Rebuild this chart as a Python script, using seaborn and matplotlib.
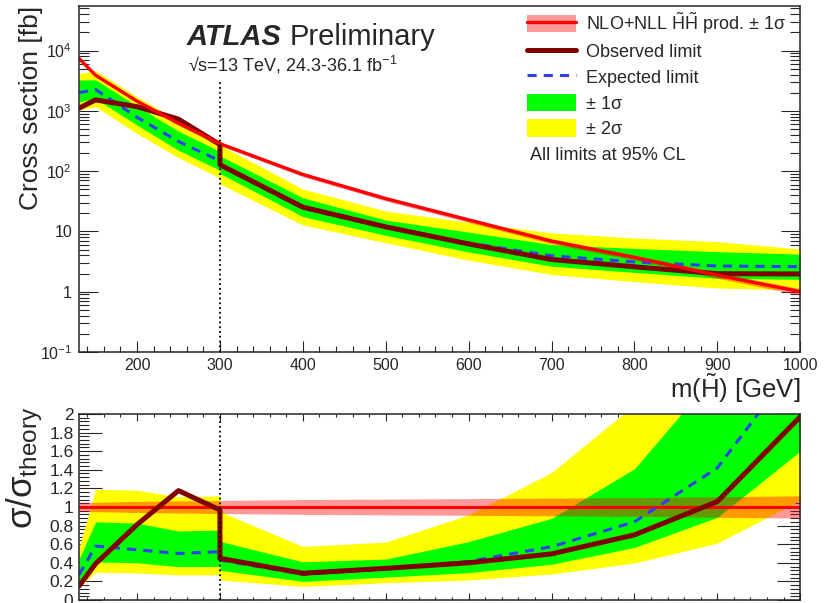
import numpy as np
import matplotlib
matplotlib.use("Agg")
import matplotlib.pyplot as plt
import seaborn as sns
from matplotlib.patches import Patch
from matplotlib.lines import Line2D
from matplotlib.ticker import MultipleLocator, LogLocator, FuncFormatter, NullFormatter

# NLO+NLL higgsino pair production [fb] and its relative uncertainty
mass = np.array([130, 150, 200, 250, 300, 400, 500, 600, 700, 800, 900, 1000])
xsec_theory = np.array([7400, 3900, 1450, 620, 285, 88, 35, 15.5, 6.9, 3.7, 1.88, 1.0])
theory_unc = np.array([0.05, 0.05, 0.06, 0.065, 0.07, 0.08, 0.085, 0.09, 0.095, 0.10, 0.11, 0.12])

# low-mass analysis limits [fb]
mass_low = np.array([130, 150, 200, 250, 300])
obs_low = np.array([1110, 1520, 1175, 729, 276])
exp_low = np.array([2000, 2260, 783, 310, 148])
exp_low_1dn = np.array([1406, 1599, 580, 222, 103])
exp_low_1up = np.array([3256, 3276, 1198, 460, 214])
exp_low_2dn = np.array([1036, 1170, 421, 167, 77])
exp_low_2up = np.array([4144, 4641, 1711, 688, 319])

# high-mass analysis limits [fb]
mass_high = np.array([300, 400, 500, 600, 700, 800, 900, 1000])
obs_high = np.array([127.7, 25.3, 11.9, 6.2, 3.42, 2.59, 1.99, 1.97])
exp_high = np.array([122.6, 24.2, 11.6, 6.43, 3.95, 3.11, 2.67, 2.6])
exp_high_1dn = np.array([91.2, 17.6, 8.6, 4.56, 2.65, 2.09, 1.67, 1.6])
exp_high_1up = np.array([179.6, 36.1, 15.4, 9.72, 6.06, 5.22, 4.61, 4.2])
exp_high_2dn = np.array([61.3, 12.8, 6.5, 3.33, 1.93, 1.47, 1.15, 1.07])
exp_high_2up = np.array([270.8, 50.6, 21.8, 14.2, 9.45, 7.77, 6.77, 5.1])

RED = "#ff0000"
DARKRED = "#800000"
BLUE = "#3040f0"
GREEN = "#00ff00"
YELLOW = "#ffff00"

sns.set_style("ticks")
plt.rcParams["font.family"] = ["Liberation Sans", "DejaVu Sans"]
plt.rcParams["mathtext.fontset"] = "custom"
plt.rcParams["mathtext.rm"] = "Liberation Sans"
plt.rcParams["mathtext.it"] = "Liberation Sans:italic"
plt.rcParams["mathtext.bf"] = "Liberation Sans:bold"
plt.rcParams["mathtext.sf"] = "Liberation Sans"

fig = plt.figure(figsize=(8.29, 6.03), dpi=100)
ax = fig.add_axes([0.0953, 0.4163, 0.870, 0.5738])
axr = fig.add_axes([0.0953, 0.005, 0.870, 0.3085])

# ---------------- top panel ----------------
for m, d2, u2, d1, u1 in [(mass_low, exp_low_2dn, exp_low_2up, exp_low_1dn, exp_low_1up),
                          (mass_high, exp_high_2dn, exp_high_2up, exp_high_1dn, exp_high_1up)]:
    ax.fill_between(m, d2, u2, color=YELLOW, lw=0)
    ax.fill_between(m, d1, u1, color=GREEN, lw=0)

sns.lineplot(x=mass_low, y=exp_low, ax=ax, color=BLUE, lw=2.2, linestyle=(0, (3, 2.3)))
sns.lineplot(x=mass_high, y=exp_high, ax=ax, color=BLUE, lw=2.2, linestyle=(0, (3, 2.3)))

ax.fill_between(mass, xsec_theory * (1 - theory_unc), xsec_theory * (1 + theory_unc),
                color=RED, alpha=0.4, lw=0)

obs_mass = np.concatenate([mass_low, mass_high])
obs_all = np.concatenate([obs_low, obs_high])
sns.lineplot(x=obs_mass, y=obs_all, ax=ax, color=DARKRED, lw=3.6, sort=False, estimator=None)
sns.lineplot(x=mass, y=xsec_theory, ax=ax, color=RED, lw=2.4)

ax.axvline(300, ymax=0.78, color="black", ls=":", lw=1.3)

ax.set_yscale("log")
ax.set_xlim(130, 1000)
ax.set_ylim(0.1, 5.5e4)

def log_fmt(v, pos):
    if np.isclose(v, 1):
        return "1"
    if np.isclose(v, 10):
        return "10"
    return r"10$^{%d}$" % int(round(np.log10(v)))

ax.yaxis.set_major_locator(LogLocator(base=10, numticks=10))
ax.yaxis.set_minor_locator(LogLocator(base=10, subs=np.arange(2, 10), numticks=20))
ax.yaxis.set_major_formatter(FuncFormatter(log_fmt))
ax.yaxis.set_minor_formatter(NullFormatter())
ax.xaxis.set_major_locator(MultipleLocator(100))
ax.xaxis.set_minor_locator(MultipleLocator(20))

ax.tick_params(axis="both", which="both", direction="in", top=False, right=True, width=0.8)
ax.tick_params(axis="y", which="major", length=14, labelsize=11.5, pad=5)
ax.tick_params(axis="y", which="minor", length=7)
ax.tick_params(axis="x", which="major", length=8, labelsize=11.5, pad=4)
ax.tick_params(axis="x", which="minor", length=4.3)
for s in ax.spines.values():
    s.set_linewidth(1.1)

ax.set_ylabel("Cross section [fb]", fontsize=19, loc="top")
ax.yaxis.set_label_coords(-0.05, 1.0)
ax.set_xlabel(r"m($\tilde{\mathrm{H}}$) [GeV]", fontsize=18.5, loc="right")
ax.xaxis.set_label_coords(1.0, -0.058)

ax.text(0.149, 0.887, "ATLAS", transform=ax.transAxes, fontsize=21,
        fontweight="bold", fontstyle="italic")
ax.text(0.2926, 0.887, "Preliminary", transform=ax.transAxes, fontsize=21)
ax.text(0.151, 0.81, r"√s=13 TeV, 24.3-36.1 fb$^{-1}$", transform=ax.transAxes, fontsize=13)

handles = [(Patch(facecolor=RED, alpha=0.4, lw=0), Line2D([], [], color=RED, lw=2.4)),
           Line2D([], [], color=DARKRED, lw=3.6),
           Line2D([], [], color=BLUE, lw=2.2, linestyle=(0, (3, 2.3))),
           Patch(facecolor=GREEN, lw=0),
           Patch(facecolor=YELLOW, lw=0)]
labels = [r"NLO+NLL $\tilde{\mathrm{H}}\tilde{\mathrm{H}}$ prod. ± 1σ",
          "Observed limit", "Expected limit", "± 1σ", "± 2σ"]
ax.legend(handles, labels, loc="upper left", bbox_to_anchor=(0.621, 0.988), frameon=False,
          fontsize=13, handlelength=2.7, handleheight=1.1, labelspacing=0.38,
          handletextpad=0.6, borderpad=0, borderaxespad=0)
ax.text(0.6255, 0.569, "All limits at 95% CL", transform=ax.transAxes, fontsize=13, va="center")

# ---------------- ratio panel ----------------
th_low = np.interp(mass_low, mass, xsec_theory)
th_high = np.interp(mass_high, mass, xsec_theory)

for m, th, d2, u2, d1, u1 in [(mass_low, th_low, exp_low_2dn, exp_low_2up, exp_low_1dn, exp_low_1up),
                              (mass_high, th_high, exp_high_2dn, exp_high_2up, exp_high_1dn, exp_high_1up)]:
    axr.fill_between(m, d2 / th, u2 / th, color=YELLOW, lw=0)
    axr.fill_between(m, d1 / th, u1 / th, color=GREEN, lw=0)

axr.fill_between(mass, 1 - theory_unc, 1 + theory_unc, color=RED, alpha=0.4, lw=0)
sns.lineplot(x=mass, y=np.ones_like(xsec_theory), ax=axr, color=RED, lw=2.2)
sns.lineplot(x=mass_low, y=exp_low / th_low, ax=axr, color=BLUE, lw=2.2, linestyle=(0, (3, 2.3)))
sns.lineplot(x=mass_high, y=exp_high / th_high, ax=axr, color=BLUE, lw=2.2, linestyle=(0, (3, 2.3)))
obs_ratio = np.concatenate([obs_low / th_low, obs_high / th_high])
sns.lineplot(x=obs_mass, y=obs_ratio, ax=axr, color=DARKRED, lw=3.6, sort=False, estimator=None)

axr.axvline(300, color="black", ls=":", lw=1.3)

axr.set_xlim(130, 1000)
axr.set_ylim(0, 2)
axr.yaxis.set_major_locator(MultipleLocator(0.2))
axr.yaxis.set_minor_locator(MultipleLocator(0.04))
axr.yaxis.set_major_formatter(FuncFormatter(lambda v, p: "%g" % round(v, 1)))
axr.xaxis.set_major_locator(MultipleLocator(100))
axr.xaxis.set_minor_locator(MultipleLocator(20))
axr.tick_params(axis="both", which="both", direction="in", top=True, right=True, width=0.8)
axr.tick_params(axis="y", which="major", length=16.5, labelsize=12.5, pad=4)
axr.tick_params(axis="y", which="minor", length=7)
axr.tick_params(axis="x", which="major", length=5, labelbottom=False)
axr.tick_params(axis="x", which="minor", length=2.5)
for s in axr.spines.values():
    s.set_linewidth(1.1)
axr.set_xlabel("")
axr.set_ylabel(r"σ/σ$_{\mathrm{theory}}$", fontsize=25, loc="top")
axr.yaxis.set_label_coords(-0.047, 1.038)

fig.savefig("out.png", dpi=100)
